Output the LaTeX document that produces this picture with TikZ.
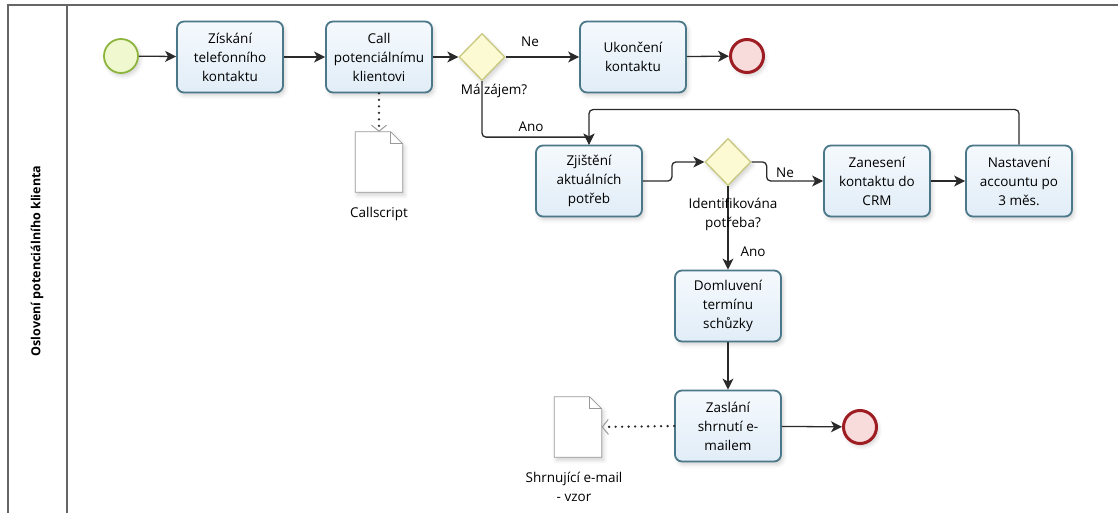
\documentclass[tikz,border=0pt]{standalone}
\usepackage{fontspec}
\setmainfont{Open Sans}
\usetikzlibrary{arrows.meta,shapes.geometric,shadows.blur,calc}

\definecolor{taskborder}{HTML}{4A7888}
\definecolor{tasktop}{HTML}{F5F9FD}
\definecolor{taskbottom}{HTML}{E1EDF7}
\definecolor{gwborder}{HTML}{C9C77F}
\definecolor{gwfill}{HTML}{FBFAD2}
\definecolor{startborder}{HTML}{8DB53E}
\definecolor{startfill}{HTML}{F0F8CF}
\definecolor{endborder}{HTML}{9E1D22}
\definecolor{endfill}{HTML}{F8DCDC}
\definecolor{frameline}{HTML}{666666}
\definecolor{flowline}{HTML}{2A2A2A}
\definecolor{docborder}{HTML}{9A9A9A}

\tikzset{
  x=1pt, y=-1pt,
  softshadow/.style={blur shadow={shadow xshift=2pt, shadow yshift=-3pt,
      shadow blur radius=4pt, shadow opacity=18}},
  task/.style={draw=taskborder, line width=1.8pt, rounded corners=7pt,
      top color=tasktop, bottom color=taskbottom,
      minimum width=106pt, minimum height=71pt, inner sep=2pt,
      align=center, font=\fontsize{13.5}{19}\selectfont, softshadow},
  gateway/.style={diamond, draw=gwborder, line width=1.3pt, fill=gwfill,
      minimum width=46pt, minimum height=47pt, inner sep=0pt, softshadow},
  startev/.style={circle, draw=startborder, line width=1.8pt, fill=startfill,
      minimum size=34pt, inner sep=0pt, softshadow},
  endev/.style={circle, draw=endborder, line width=3pt, fill=endfill,
      minimum size=33pt, inner sep=0pt, softshadow},
  docslot/.style={minimum width=47pt, minimum height=60pt, inner sep=0pt},
  docshape/.style={draw=docborder, line width=0.8pt, fill=white, softshadow},
  label/.style={font=\fontsize{13.5}{19}\selectfont, align=center, inner sep=0pt},
  flow/.style={draw=flowline, line width=1.3pt, rounded corners=4pt,
      -{Stealth[length=11pt, width=11pt, inset=3pt]}},
  assoc/.style={draw=flowline, line width=2.6pt, line cap=round,
      dash pattern=on 0pt off 6.5pt,
      -{Straight Barb[length=6pt, width=15pt, line width=1pt, color=docborder]}},
  frame/.style={draw=frameline, line width=1.8pt},
}

\begin{document}
\begin{tikzpicture}
\useasboundingbox (0,0) rectangle (1118,513);

% pool frame and lane header
\draw[frame] (8,513) -- (8,5) -- (1118,5);
\draw[frame] (67,5) -- (67,513);
\node[rotate=90, font=\bfseries\fontsize{12.5}{14}\selectfont] (lane) at (37,261)
  {Oslovení potenciálního klienta};

% events, tasks, gateways
\node[startev] (start) at (121,56) {};
\node[task] (t1) at (230,57) {Získání\\telefonního\\kontaktu};
\node[task] (t2) at (379,57) {Call\\potenciálnímu\\klientovi};
\node[gateway] (g1) at (482,57) {};
\node[task] (t3) at (633,57) {Ukončení\\kontaktu};
\node[endev] (e1) at (747,56) {};

\node[task] (t4) at (589,181) {Zjištění\\aktuálních\\potřeb};
\node[gateway] (g2) at (728,162) {};
\node[task] (t5) at (877,181) {Zanesení\\kontaktu do\\CRM};
\node[task] (t6) at (1019,181) {Nastavení\\accountu po\\3 měs.};

\node[task] (t7) at (728,306) {Domluvení\\termínu\\schůzky};
\node[task] (t8) at (728,426) {Zaslání\\shrnutí e-\\mailem};
\node[endev] (e2) at (860,427) {};

% data objects
\node[docslot] (d1) at (379,162) {};
\node[docslot] (d2) at (578,427) {};
\foreach \d in {d1,d2}{
  \draw[docshape] (\d.north west) -- ($(\d.north east)+(-12,0)$)
    -- ($(\d.north east)+(0,12)$) -- (\d.south east) -- (\d.south west) -- cycle;
  \draw[docborder, line width=0.8pt] ($(\d.north east)+(-12,0)$) -- ++(0,12)
    -- ($(\d.north east)+(0,12)$);
}
\node[label] (d1l) at (379,214) {Callscript};
\node[label] (d2l) at (574,487) {Shrnující e-mail\\- vzor};

% sequence flows
\draw[flow] (start) -- (t1);
\draw[flow] (t1) -- (t2);
\draw[flow] (t2) -- (g1);
\draw[flow] (g1) -- (t3);
\draw[flow] (t3) -- (e1);
\draw[flow] (g1.south) -- ++(0,56) -| (t4.north);
\draw[flow] (t6.north) -- ++(0,-35) -| (t4.north);
\draw[flow] (t4.east) -- ++(29,0) |- (g2.west);
\draw[flow] (g2.east) -- ++(15,0) |- (t5.west);
\draw[flow] (t5) -- (t6);
\draw[flow] (g2.south) -- (t7.north);
\draw[flow] (t7) -- (t8);
\draw[flow] (t8) -- (e2);

% associations
\draw[assoc] (t2.south) -- (d1.north);
\draw[assoc] (t8.west) -- (d2.east);

% flow labels
\node[label] (l1) at (530,42) {Ne};
\node[label] (l2) at (494,91) {Má zájem?};
\node[label] (l3) at (531,127) {Ano};
\node[label] (l4) at (785,173) {Ne};
\node[label] (l5) at (733,214) {Identifikována\\potřeba?};
\node[label] (l6) at (753,252) {Ano};
\end{tikzpicture}
\end{document}
